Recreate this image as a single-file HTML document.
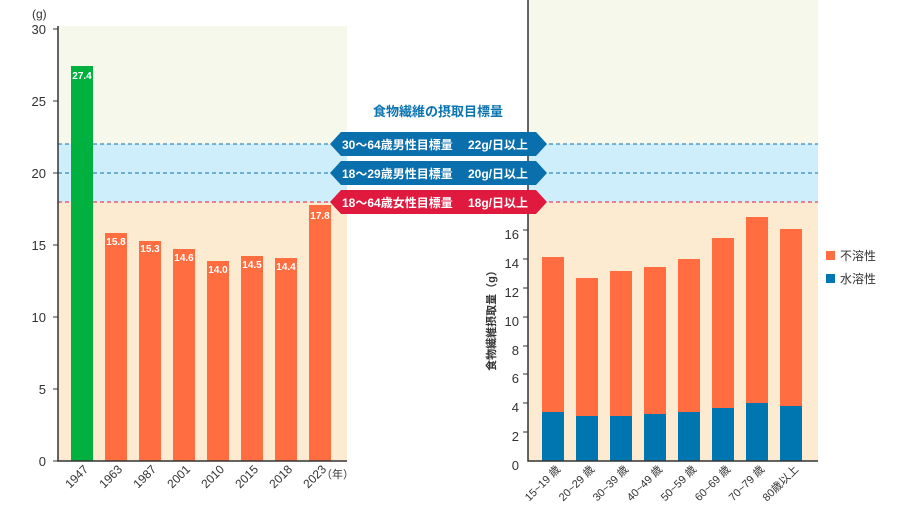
<!DOCTYPE html><html><head><meta charset="utf-8"><style>
body{margin:0;background:#fff;font-family:"Liberation Sans","Noto Sans CJK JP",sans-serif}
</style></head><body>
<svg width="900" height="519" xmlns="http://www.w3.org/2000/svg" font-family="Liberation Sans, Noto Sans CJK JP, sans-serif">
<rect x="58" y="26" width="289" height="118" fill="#f5f8ea"/>
<rect x="58" y="144" width="289" height="58" fill="#cdeefa"/>
<rect x="58" y="202" width="289" height="259" fill="#fdebd1"/>
<rect x="528" y="0" width="290" height="144" fill="#f5f8ea"/>
<rect x="528" y="144" width="290" height="58" fill="#cdeefa"/>
<rect x="528" y="202" width="290" height="259" fill="#fdebd1"/>
<g stroke-width="1" stroke-dasharray="4,3">
<line x1="58" x2="347" y1="144" y2="144" stroke="#0a73b0"/><line x1="528" x2="818" y1="144" y2="144" stroke="#0a73b0"/>
<line x1="58" x2="347" y1="173" y2="173" stroke="#0a73b0"/><line x1="528" x2="818" y1="173" y2="173" stroke="#0a73b0"/>
<line x1="58" x2="347" y1="202" y2="202" stroke="#e0193e"/><line x1="528" x2="818" y1="202" y2="202" stroke="#e0193e"/>
</g>
<rect x="71" y="66" width="22" height="395" fill="#00b140"/>
<g fill="#ff6d40">
<rect x="105" y="233" width="22" height="228"/>
<rect x="139" y="241" width="22" height="220"/>
<rect x="173" y="249" width="22" height="212"/>
<rect x="207" y="261" width="22" height="200"/>
<rect x="241" y="256" width="22" height="205"/>
<rect x="275" y="258" width="22" height="203"/>
<rect x="309" y="205" width="22" height="256"/>
</g>
<g fill="#fff" font-size="10" font-weight="bold" text-anchor="middle">
<text x="82" y="79">27.4</text><text x="116" y="245">15.8</text><text x="150" y="252">15.3</text><text x="184" y="261">14.6</text><text x="218" y="273">14.0</text><text x="252" y="268">14.5</text><text x="286" y="270">14.4</text><text x="320" y="219">17.8</text>
</g>
<path d="M58 26V461H347" fill="none" stroke="#333" stroke-width="1.5"/>
<g font-size="13" fill="#333" text-anchor="end">
<text x="46" y="466">0</text><text x="46" y="394">5</text><text x="46" y="322">10</text><text x="46" y="250">15</text><text x="46" y="178">20</text><text x="46" y="106">25</text><text x="46" y="34">30</text>
</g>
<g stroke="#333"><line x1="53" x2="58" y1="461" y2="461"/><line x1="53" x2="58" y1="389" y2="389"/><line x1="53" x2="58" y1="317" y2="317"/><line x1="53" x2="58" y1="245" y2="245"/><line x1="53" x2="58" y1="173" y2="173"/><line x1="53" x2="58" y1="101" y2="101"/><line x1="53" x2="58" y1="29" y2="29"/></g>
<text x="32" y="18" font-size="12" fill="#333">(g)</text>
<g font-size="12" fill="#333" text-anchor="end">
<text transform="translate(89,470) rotate(-45)">1947</text>
<text transform="translate(123,470) rotate(-45)">1963</text>
<text transform="translate(157,470) rotate(-45)">1987</text>
<text transform="translate(191,470) rotate(-45)">2001</text>
<text transform="translate(225,470) rotate(-45)">2010</text>
<text transform="translate(259,470) rotate(-45)">2015</text>
<text transform="translate(293,470) rotate(-45)">2018</text>
<text transform="translate(327,470) rotate(-45)">2023</text>
</g>
<text x="321" y="478" font-size="11" fill="#333">（年）</text>
<g fill="#ff6d40">
<rect x="542" y="257" width="22" height="204"/><rect x="576" y="278" width="22" height="183"/><rect x="610" y="271" width="22" height="190"/><rect x="644" y="267" width="22" height="194"/><rect x="678" y="259" width="22" height="202"/><rect x="712" y="238" width="22" height="223"/><rect x="746" y="217" width="22" height="244"/><rect x="780" y="229" width="22" height="232"/>
</g>
<g fill="#0076b0">
<rect x="542" y="412" width="22" height="49"/><rect x="576" y="416" width="22" height="45"/><rect x="610" y="416" width="22" height="45"/><rect x="644" y="414" width="22" height="47"/><rect x="678" y="412" width="22" height="49"/><rect x="712" y="408" width="22" height="53"/><rect x="746" y="403" width="22" height="58"/><rect x="780" y="406" width="22" height="55"/>
</g>
<path d="M528 0V461H818" fill="none" stroke="#333" stroke-width="1.5"/>
<g font-size="13" fill="#333" text-anchor="end">
<text x="519" y="470">0</text><text x="519" y="441">2</text><text x="519" y="412">4</text><text x="519" y="383">6</text><text x="519" y="355">8</text><text x="519" y="326">10</text><text x="519" y="297">12</text><text x="519" y="268">14</text><text x="519" y="239">16</text>
</g>
<g stroke="#333"><line x1="523" x2="528" y1="432" y2="432"/><line x1="523" x2="528" y1="403" y2="403"/><line x1="523" x2="528" y1="374" y2="374"/><line x1="523" x2="528" y1="346" y2="346"/><line x1="523" x2="528" y1="317" y2="317"/><line x1="523" x2="528" y1="288" y2="288"/><line x1="523" x2="528" y1="259" y2="259"/><line x1="523" x2="528" y1="230" y2="230"/></g>
<text transform="translate(495,318) rotate(-90)" font-size="11" font-weight="bold" fill="#333" text-anchor="middle">食物繊維摂取量（g）</text>
<g font-size="11" fill="#333" text-anchor="end">
<text transform="translate(561,470) rotate(-45)">15~19 歳</text>
<text transform="translate(595,470) rotate(-45)">20~29 歳</text>
<text transform="translate(629,470) rotate(-45)">30~39 歳</text>
<text transform="translate(663,470) rotate(-45)">40~49 歳</text>
<text transform="translate(697,470) rotate(-45)">50~59 歳</text>
<text transform="translate(731,470) rotate(-45)">60~69 歳</text>
<text transform="translate(765,470) rotate(-45)">70~79 歳</text>
<text transform="translate(799,470) rotate(-45)">80歳以上</text>
</g>
<rect x="826" y="251" width="9" height="9" fill="#ff6d40"/><text x="840" y="260" font-size="12" fill="#333">不溶性</text>
<rect x="826" y="274" width="9" height="9" fill="#0076b0"/><text x="840" y="283" font-size="12" fill="#333">水溶性</text>
<text x="438" y="116" font-size="13" font-weight="bold" fill="#0a73b0" text-anchor="middle">食物繊維の摂取目標量</text>
<polygon points="330,144 341,132 536,132 547,144 536,156 341,156" fill="#0a6fad"/>
<polygon points="330,173 341,161 536,161 547,173 536,185 341,185" fill="#0a6fad"/>
<polygon points="330,202 341,190 536,190 547,202 536,214 341,214" fill="#e0193e"/>
<g font-size="12" font-weight="bold" fill="#fff">
<text x="342" y="149">30〜64歳男性目標量</text><text x="468" y="149">22g/日以上</text>
<text x="342" y="178">18〜29歳男性目標量</text><text x="468" y="178">20g/日以上</text>
<text x="342" y="207">18〜64歳女性目標量</text><text x="468" y="207">18g/日以上</text>
</g>
</svg>
</body></html>
